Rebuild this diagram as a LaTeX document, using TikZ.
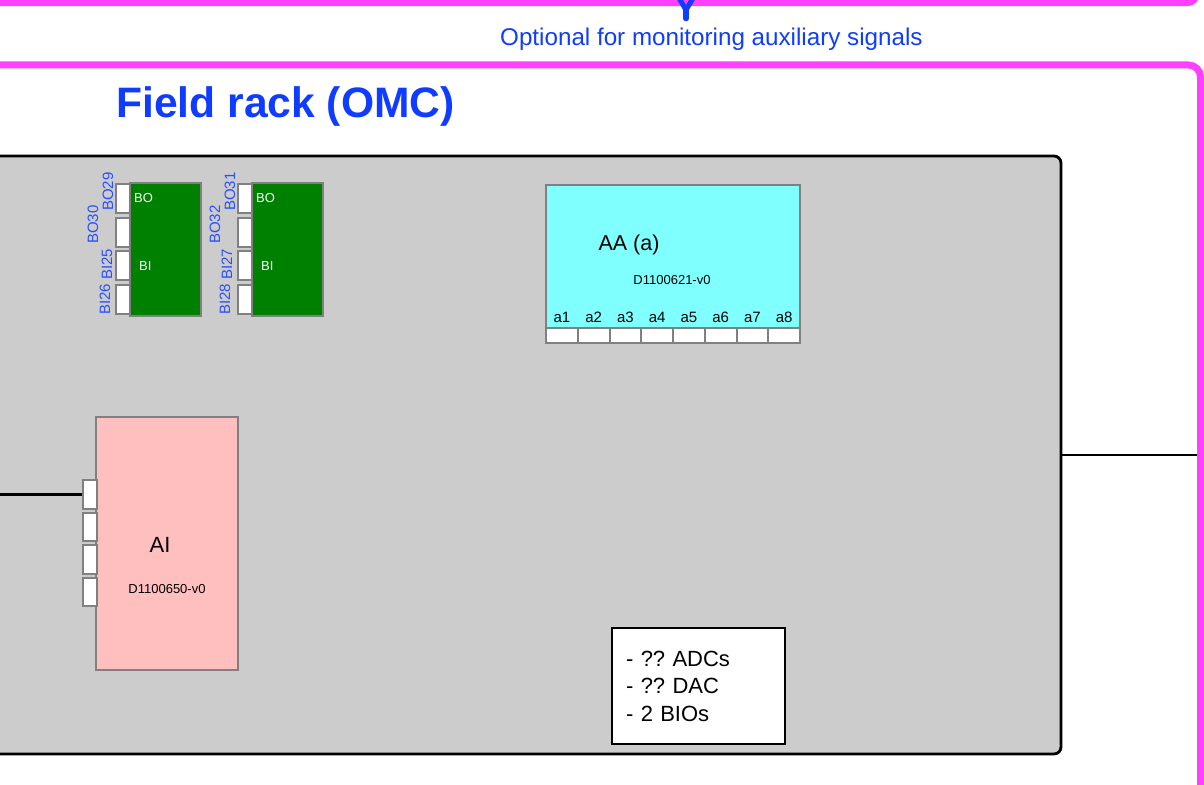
\documentclass[tikz,border=0pt]{standalone}
\usepackage{fontspec}
\setmainfont{Liberation Sans}
\frenchspacing
\definecolor{mag}{RGB}{255,64,255}
\definecolor{tblue}{RGB}{16,60,255}
\definecolor{lblue}{RGB}{40,80,255}
\definecolor{rackgray}{RGB}{204,204,204}
\definecolor{portgray}{RGB}{128,128,128}
\definecolor{bgreen}{RGB}{0,128,0}
\definecolor{bcyan}{RGB}{128,255,255}
\definecolor{bpink}{RGB}{255,191,191}
\tikzset{
  px/.style={x=1pt,y=-1pt},
  module/.style={draw=portgray, line width=2.2pt, anchor=north west, inner sep=0pt},
  portbox/.style={draw=portgray, fill=white, line width=2.2pt, anchor=north west, inner sep=0pt},
  sig/.style={font=\fontsize{15}{17}\selectfont, text=lblue, rotate=90, anchor=base west, inner sep=0pt},
  wlab/.style={font=\fontsize{13}{15}\selectfont, text=white, inner sep=0pt},
  plab/.style={font=\fontsize{15}{17}\selectfont, inner sep=0pt},
  wire/.style={line width=2.8pt, black}
}
\begin{document}
\begin{tikzpicture}[px]
\useasboundingbox (0,0) rectangle (1204,784);
% upper (cut off) box
\draw[mag, line width=6.5pt, rounded corners=10pt] (-30,-60) rectangle (1197,3);
% blue fork
\draw[tblue, line width=5pt, line cap=round, line join=round] (679,-2) -- (686,10) -- (693,-2);
\draw[tblue, line width=5.5pt, line cap=round] (686,9) -- (686,18.5);
\node[anchor=base west, inner sep=0pt, text=tblue, font=\fontsize{24.2}{28}\selectfont] (opt) at (500,46) {Optional for monitoring auxiliary signals};
% field rack
\draw[mag, line width=7pt, rounded corners=12pt, fill=white] (-30,65) rectangle (1200.5,820);
\node[anchor=base west, inner sep=0pt, text=tblue, font=\bfseries\fontsize{42.6}{48}\selectfont] (title) at (116,117) {Field rack (OMC)};
% gray rack
\draw[line width=2.8pt, fill=rackgray, rounded corners=7pt] (-30,156) rectangle (1061,754);
\coordinate (rackR) at (1061,455);
\coordinate (magR) at (1197,455);
\draw[wire] (rackR) -- (magR);
% BIO block 1
\node[module, fill=bgreen, minimum width=71pt, minimum height=133pt] (bio1) at (129,182) {};
\node[wlab, anchor=west] (bio1bo) at (134,198) {BO};
\node[wlab, anchor=west] (bio1bi) at (139,266) {BI};
\foreach \i/\y in {1/183,2/216.5,3/250,4/284}{
  \node[portbox, minimum width=14pt, minimum height=29pt] (bio1p\i) at (115,\y) {};
}
\node[sig] (l29) at (113,211) {BO29};
\node[sig] (l30) at (98,244) {BO30};
\node[sig] (l25) at (112,280) {BI25};
\node[sig] (l26) at (110,315) {BI26};
% BIO block 2
\node[module, fill=bgreen, minimum width=71pt, minimum height=133pt] (bio2) at (251,182) {};
\node[wlab, anchor=west] (bio2bo) at (256,198) {BO};
\node[wlab, anchor=west] (bio2bi) at (261,266) {BI};
\foreach \i/\y in {1/183,2/216.5,3/250,4/284}{
  \node[portbox, minimum width=14pt, minimum height=29pt] (bio2p\i) at (237,\y) {};
}
\node[sig] (l31) at (235,211) {BO31};
\node[sig] (l32) at (220,244) {BO32};
\node[sig] (l27) at (232,280) {BI27};
\node[sig] (l28) at (230,315) {BI28};
% AA block
\node[module, fill=bcyan, minimum width=254pt, minimum height=143pt] (aa) at (545,184) {};
\node[inner sep=0pt, font=\fontsize{21.5}{24}\selectfont] (aat) at (629,245) {AA (a)};
\node[inner sep=0pt, font=\fontsize{13}{15}\selectfont] (aad) at (672,280) {D1100621-v0};
\foreach \i in {1,...,8}{
  \pgfmathsetmacro{\xx}{545+31.75*(\i-1)}
  \node[portbox, minimum width=31.75pt, minimum height=15pt] (aap\i) at (\xx,327) {};
  \node[plab] (aal\i) at ([yshift=10pt]aap\i.north) {a\i};
}
% AI block
\node[module, fill=bpink, minimum width=142pt, minimum height=253pt] (ai) at (95,416) {};
\node[inner sep=0pt, font=\fontsize{22}{25}\selectfont] (ait) at (160,545) {AI};
\node[inner sep=0pt, font=\fontsize{13}{15}\selectfont] (aid) at (167,589) {D1100650-v0};
\foreach \i/\y in {1/479,2/511.5,3/544,4/576.5}{
  \node[portbox, minimum width=14pt, minimum height=28.5pt] (aip\i) at (82,\y) {};
}
\coordinate (inL) at ([xshift=-100pt]aip1.west);
\draw[wire] (inL) -- (aip1.west);
% notes box
\node[draw, line width=2.2pt, fill=white, anchor=north west, minimum width=173pt, minimum height=116pt,
      inner xsep=14pt, text width=145pt, align=left, font=\fontsize{22}{27.5}\selectfont] (notes) at (611,627)
  {- ?? ADCs\\- ?? DAC\\- 2 BIOs};
\end{tikzpicture}
\end{document}
